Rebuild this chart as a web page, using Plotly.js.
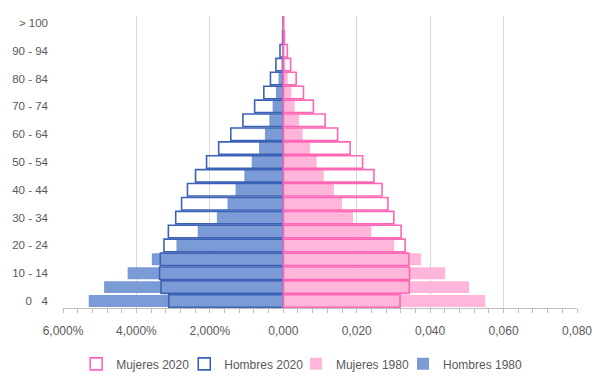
<!DOCTYPE html>
<html>
<head>
<meta charset="utf-8">
<script src="https://cdn.plot.ly/plotly-3.0.1.min.js"></script>
<style>html,body{margin:0;padding:0;background:#fff;}#chart{width:610px;height:379px;}</style>
</head>
<body>
<div id="chart"></div>
<script>
var categories = ["0 - 4","5 - 9","10 - 14","15 - 19","20 - 24","25 - 29","30 - 34","35 - 39","40 - 44","45 - 49","50 - 54","55 - 59","60 - 64","65 - 69","70 - 74","75 - 79","80 - 84","85 - 89","90 - 94","95 - 99","> 100"];
var hombres1980 = [0.0530,0.0488,0.0424,0.0358,0.0291,0.0233,0.0181,0.0152,0.0130,0.0106,0.0086,0.0066,0.0050,0.0038,0.0029,0.0020,0.0013,0.0005,0.0002,0.0001,0.00003];
var mujeres1980 = [0.0550,0.0506,0.0441,0.0375,0.0302,0.0240,0.0190,0.0160,0.0138,0.0110,0.0091,0.0073,0.0053,0.0043,0.0031,0.0022,0.0012,0.0006,0.0003,0.0001,0.00003];
var hombres2020 = [0.0312,0.0333,0.0337,0.0335,0.0325,0.0313,0.0293,0.0277,0.0261,0.0239,0.0209,0.0176,0.0143,0.0110,0.0078,0.0053,0.0035,0.0020,0.0009,0.0002,0.00005];
var mujeres2020 = [0.0318,0.0343,0.0344,0.0342,0.0332,0.0321,0.0301,0.0285,0.0269,0.0247,0.0216,0.0182,0.0148,0.0114,0.0082,0.0055,0.0035,0.0020,0.0011,0.0003,0.0001];
var yTickCats = ["0 - 4","10 - 14","20 - 24","30 - 34","40 - 44","50 - 54","60 - 64","70 - 74","80 - 84","90 - 94","> 100"];
var yTickText = ["0\u00a0\u00a0\u00a04","10 - 14","20 - 24","30 - 34","40 - 44","50 - 54","60 - 64","70 - 74","80 - 84","90 - 94","> 100"];
var xTickVals = [-0.06,-0.04,-0.02,0,0.02,0.04,0.06,0.08];
var xTickText = ["6,000%","4,000%","2,000%","0,000","0,020","0,040","0,060","0,080"];

function neg(a){return a.map(function(v){return -v;});}

var blueFill = "#7B9BD6", pinkFill = "#FFB6DA", blueLine = "#3C62B6", pinkLine = "#FF66B5";

var traces = [
  {type:"bar", orientation:"h", name:"Hombres 1980", y:categories, x:neg(hombres1980), width:0.86,
   marker:{color:blueFill, line:{width:0}}, legend:"legend4", hoverinfo:"skip"},
  {type:"bar", orientation:"h", name:"Mujeres 1980", y:categories, x:mujeres1980, width:0.86,
   marker:{color:pinkFill, line:{width:0}}, legend:"legend3", hoverinfo:"skip"},
  {type:"bar", orientation:"h", name:"Hombres 2020", y:categories, x:neg(hombres2020), width:0.9,
   marker:{color:"rgba(0,0,0,0)", line:{color:blueLine, width:1.6}}, legend:"legend2", hoverinfo:"skip"},
  {type:"bar", orientation:"h", name:"Mujeres 2020", y:categories, x:mujeres2020, width:0.9,
   marker:{color:"rgba(0,0,0,0)", line:{color:pinkLine, width:1.6}}, legend:"legend", hoverinfo:"skip"}
];

function leg(x){
  return {orientation:"h", x:x, xanchor:"left", xref:"paper",
          yref:"container", y:0.04, yanchor:"middle",
          bgcolor:"rgba(0,0,0,0)", font:{size:12, color:"#595959"}};
}

var layout = {
  width:610, height:379,
  margin:{l:63, r:33, t:16, b:71},
  paper_bgcolor:"#fff", plot_bgcolor:"#fff",
  barmode:"overlay",
  font:{family:"Liberation Sans, Arial, sans-serif", color:"#595959", size:12},
  showlegend:true,
  legend:leg(0.0256), legend2:leg(0.2359), legend3:leg(0.4531), legend4:leg(0.6615),
  xaxis:{range:[-0.06,0.08], tickmode:"array", tickvals:xTickVals, ticktext:xTickText,
         showgrid:true, gridcolor:"#D9D9D9", gridwidth:1, zeroline:false,
         showline:true, linecolor:"#BFBFBF", linewidth:1,
         ticks:"outside", ticklen:4, tickcolor:"#BFBFBF", ticklabelstandoff:8,
         tickfont:{size:12, color:"#595959"},
         minor:{tick0:-0.06, dtick:0.004, ticks:"outside", ticklen:4, tickcolor:"#BFBFBF", showgrid:false},
         fixedrange:true},
  yaxis:{type:"category", categoryorder:"array", categoryarray:categories,
         tickmode:"array", tickvals:yTickCats, ticktext:yTickText,
         showgrid:false, zeroline:false, showline:false, ticks:"",
         ticklabelstandoff:14, tickfont:{size:11.5, color:"#595959"}, fixedrange:true}
};

Plotly.newPlot("chart", traces, layout, {staticPlot:true, displayModeBar:false});
</script>
</body>
</html>
